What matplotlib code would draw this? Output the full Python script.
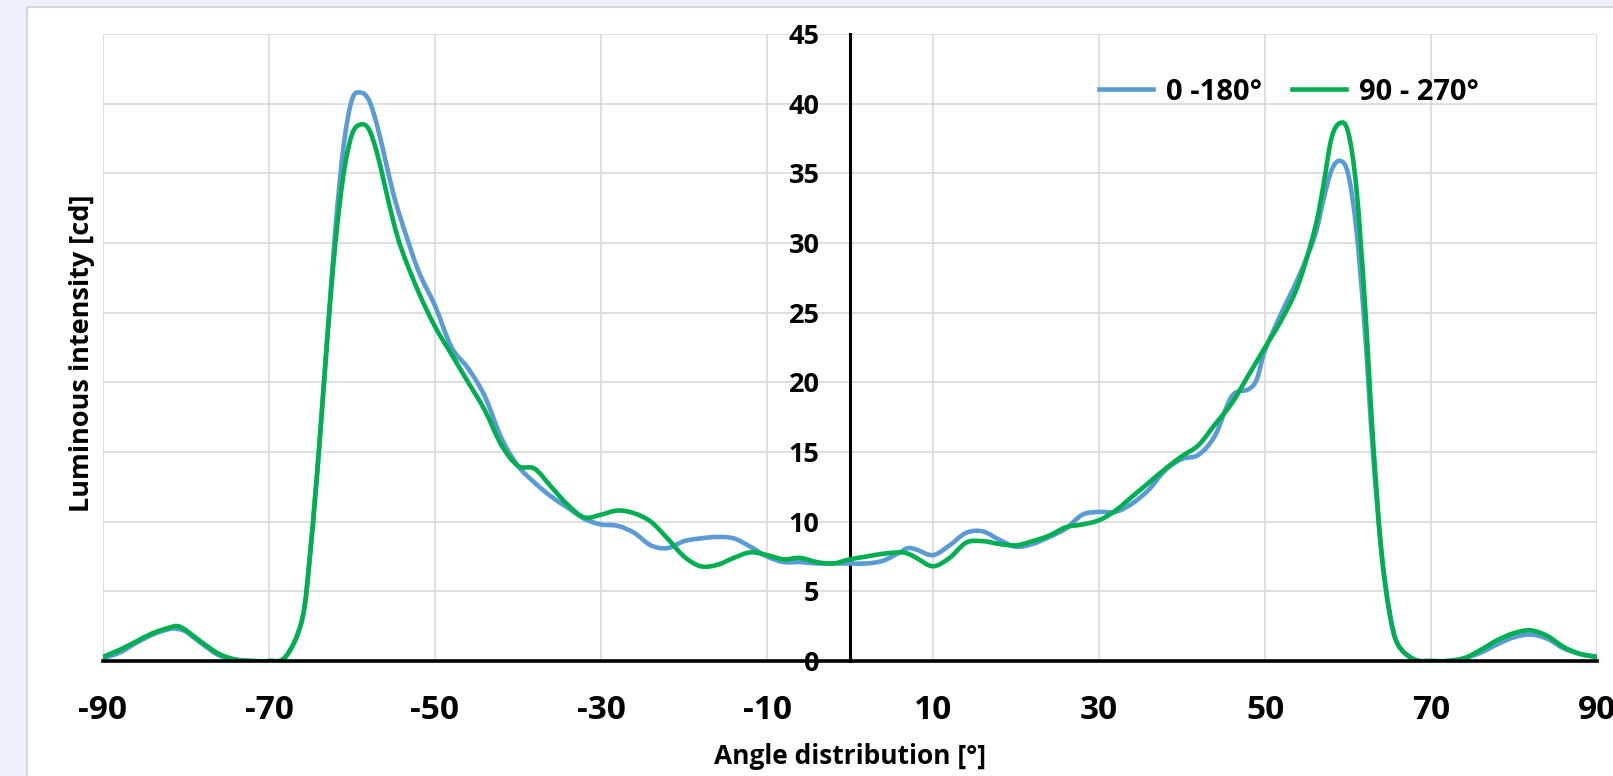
import numpy as np
import matplotlib
matplotlib.use('Agg')
import matplotlib.pyplot as plt
from matplotlib.patches import Rectangle, PathPatch
from matplotlib.path import Path

plt.rcParams['font.family'] = ['Open Sans', 'DejaVu Sans']
plt.rcParams['font.weight'] = 'bold'
plt.rcParams['axes.unicode_minus'] = False

# angle [deg]
angle = [-90, -88, -86, -84, -82, -81, -80, -78, -76, -74, -72, -70, -68, -66, -65, -64, -63, -62, -61, -60,
         -59, -58, -57, -56, -55, -54, -52, -50, -48, -46, -44, -42, -40, -38, -36, -34, -32, -30, -28, -26,
         -24, -22, -20, -18, -16, -14, -12, -10, -8, -6, -4, -2, 0, 2, 4, 6, 7, 8, 10, 12,
         14, 16, 18, 20, 22, 24, 26, 28, 30, 32, 34, 36, 38, 40, 42, 44, 46, 48, 49, 50,
         52, 54, 56, 57, 58, 59, 60, 61, 62, 63, 64, 65, 66, 68, 70, 72, 74, 76, 78, 80,
         82, 84, 86, 88, 90]

# 0 - 180 deg plane
plane_0_180 = [0.2, 0.6, 1.3, 1.9, 2.3, 2.3, 2.1, 1.2, 0.4, 0.1, 0.0, 0.0, 0.3, 3.0, 8.0, 15.0, 23.0, 31.0, 37.0, 40.3,
               40.8, 40.3, 38.5, 36.0, 33.5, 31.5, 28.0, 25.5, 22.5, 21.0, 19.0, 16.0, 14.0, 12.8, 11.8, 11.0, 10.2, 9.8, 9.7, 9.2,
               8.3, 8.1, 8.6, 8.8, 8.9, 8.8, 8.2, 7.5, 7.1, 7.1, 7.0, 7.0, 7.0, 7.0, 7.2, 7.8, 8.1, 8.0, 7.6, 8.3,
               9.2, 9.3, 8.7, 8.2, 8.4, 8.9, 9.5, 10.5, 10.7, 10.7, 11.3, 12.3, 13.7, 14.5, 14.8, 16.2, 19.0, 19.5, 20.2, 22.3,
               25.0, 27.5, 30.5, 33.0, 35.2, 35.9, 35.0, 31.0, 24.0, 15.0, 8.0, 3.5, 1.2, 0.1, 0.0, 0.0, 0.2, 0.6, 1.2, 1.7,
               1.9, 1.6, 0.9, 0.5, 0.3]

# 90 - 270 deg plane
plane_90_270 = [0.3, 0.8, 1.4, 2.0, 2.4, 2.5, 2.2, 1.3, 0.5, 0.1, 0.0, 0.0, 0.3, 3.0, 8.0, 15.0, 23.0, 30.0, 35.0, 37.8,
                38.5, 38.2, 36.5, 34.0, 31.5, 29.5, 26.5, 24.0, 22.0, 20.0, 18.0, 15.5, 14.0, 13.8, 12.5, 11.2, 10.3, 10.5, 10.8, 10.6,
                10.0, 8.8, 7.5, 6.8, 6.9, 7.4, 7.8, 7.6, 7.3, 7.4, 7.1, 7.0, 7.3, 7.5, 7.7, 7.8, 7.7, 7.4, 6.8, 7.4,
                8.5, 8.6, 8.4, 8.3, 8.6, 9.0, 9.6, 9.8, 10.1, 10.8, 11.8, 12.8, 13.8, 14.7, 15.5, 17.0, 18.5, 20.5, 21.5, 22.5,
                24.5, 27.0, 31.0, 34.0, 37.5, 38.6, 38.0, 34.0, 26.0, 16.0, 8.0, 3.5, 1.2, 0.1, 0.0, 0.0, 0.2, 0.8, 1.5, 2.0,
                2.2, 1.8, 1.0, 0.5, 0.3]

series_names = ['0 -180°', '90 - 270°']
x_ticks = [-90, -70, -50, -30, -10, 10, 30, 50, 70, 90]
y_ticks = [0, 5, 10, 15, 20, 25, 30, 35, 40, 45]


def smooth_path(xs, ys):
    # smoothed line like the spreadsheet one: Catmull-Rom segments as cubic Beziers
    p = np.column_stack([xs, ys]).astype(float)
    verts = [p[0]]
    codes = [Path.MOVETO]
    n = len(p)
    for i in range(n - 1):
        p0 = p[max(i - 1, 0)]
        p1 = p[i]
        p2 = p[i + 1]
        p3 = p[min(i + 2, n - 1)]
        c1 = p1 + (p2 - p0) / 6.0
        c2 = p2 - (p3 - p1) / 6.0
        verts += [c1, c2, p2]
        codes += [Path.CURVE4] * 3
    return Path(verts, codes)


fig = plt.figure(figsize=(16.13, 7.76), dpi=100)
fig.patch.set_facecolor('#edf1f9')
# white chart panel
fig.patches.append(Rectangle((27 / 1613, -0.05), 1.1, 1 - 7 / 776 + 0.05, transform=fig.transFigure,
                             facecolor='white', edgecolor='#d6d6d6', linewidth=1.5, zorder=-5))

ax = fig.add_axes([103 / 1613, 1 - 661 / 776, (1597 - 103) / 1613, (661 - 34) / 776])
ax.set_facecolor('none')
ax.set_zorder(2)

colors = ['#5b9bd5', '#00b050']
for ys, c, name in zip([plane_0_180, plane_90_270], colors, series_names):
    ax.add_patch(PathPatch(smooth_path(angle, ys), fill=False, edgecolor=c, lw=3.3,
                           capstyle='round', joinstyle='round', zorder=3))
    ax.plot([], [], color=c, lw=3.3, label=name)

ax.set_xlim(-90, 90)
ax.set_ylim(0, 45)
ax.set_xticks(x_ticks)
ax.set_yticks(y_ticks)
ax.grid(True, color='#d9d9d9', lw=1.2)
ax.set_axisbelow(True)

ax.spines['top'].set_visible(False)
ax.spines['right'].set_visible(False)
ax.spines['left'].set_position(('data', 0))
ax.spines['left'].set_linewidth(2.2)
ax.spines['bottom'].set_linewidth(2.6)
ax.spines['bottom'].set_zorder(4)

ax.tick_params(axis='y', length=0, pad=22, labelsize=19.5)
ax.tick_params(axis='x', length=0, pad=24, labelsize=24)
for lab in ax.get_xticklabels() + ax.get_yticklabels():
    lab.set_fontweight('bold')

fig.text(850 / 1613, 1 - 756 / 776, 'Angle distribution [°]', ha='center', va='center',
         fontsize=19, fontweight='bold')
fig.text(82 / 1613, 1 - 353 / 776, 'Luminous intensity [cd]', ha='center', va='center',
         rotation=90, fontsize=19.5, fontweight='bold')

leg = ax.legend(loc='center', bbox_to_anchor=(1289 / 1613, 1 - 92 / 776), bbox_transform=fig.transFigure,
                ncol=2, frameon=False, fontsize=21, handlelength=1.85, handletextpad=0.45, columnspacing=1.0)

fig.savefig('out.png', dpi=100, facecolor=fig.get_facecolor())
